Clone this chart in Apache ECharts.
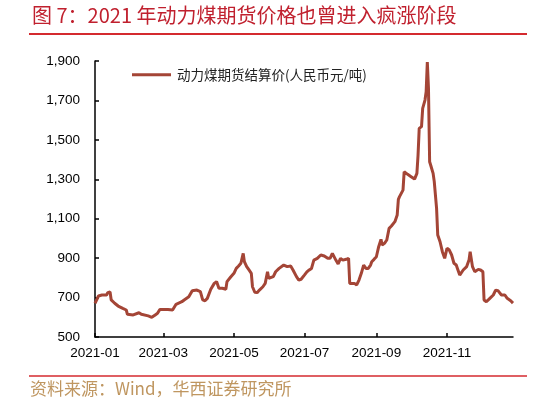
<!DOCTYPE html>
<html><head><meta charset="utf-8">
<script src="https://cdn.jsdelivr.net/npm/echarts@6/dist/echarts.min.js"></script>
<style>html,body{margin:0;padding:0;background:#fff}#c{width:533px;height:403px}</style>
</head><body><div id="c"></div>
<script>
const titleText = '图 7：2021 年动力煤期货价格也曾进入疯涨阶段';
const sourceText = '资料来源：Wind，华西证券研究所';
const seriesName = '动力煤期货结算价(人民币元/吨)';

const dates = [
'2021-01-01','2021-01-04','2021-01-07','2021-01-11','2021-01-12','2021-01-14','2021-01-15','2021-01-18','2021-01-21','2021-01-22',
'2021-01-25','2021-01-28','2021-01-29','2021-02-03','2021-02-08','2021-02-10','2021-02-16','2021-02-19','2021-02-22','2021-02-24',
'2021-02-26','2021-03-02','2021-03-05','2021-03-09','2021-03-10','2021-03-12','2021-03-17','2021-03-19','2021-03-23','2021-03-26',
'2021-03-30','2021-04-02','2021-04-04','2021-04-06','2021-04-08','2021-04-11','2021-04-14','2021-04-16','2021-04-18','2021-04-21',
'2021-04-24','2021-04-25','2021-04-28','2021-05-01','2021-05-03','2021-05-05','2021-05-07','2021-05-09','2021-05-10','2021-05-12',
'2021-05-14','2021-05-16','2021-05-17','2021-05-19','2021-05-21','2021-05-23','2021-05-26','2021-05-28','2021-05-30','2021-05-31',
'2021-06-04','2021-06-06','2021-06-09','2021-06-13','2021-06-16','2021-06-19','2021-06-21','2021-06-24','2021-06-26','2021-06-28',
'2021-07-01','2021-07-03','2021-07-05','2021-07-07','2021-07-09','2021-07-12','2021-07-15','2021-07-18','2021-07-21','2021-07-23',
'2021-07-25','2021-07-28','2021-07-30','2021-08-01','2021-08-03','2021-08-06','2021-08-08','2021-08-09','2021-08-10','2021-08-13',
'2021-08-15','2021-08-17','2021-08-19','2021-08-21','2021-08-23','2021-08-25','2021-08-27','2021-08-28','2021-08-30','2021-09-01',
'2021-09-03','2021-09-05','2021-09-06','2021-09-08','2021-09-10','2021-09-12','2021-09-14','2021-09-17','2021-09-19','2021-09-20',
'2021-09-21','2021-09-22','2021-09-24','2021-09-25','2021-09-28','2021-10-01','2021-10-04','2021-10-06','2021-10-07','2021-10-08',
'2021-10-10','2021-10-11','2021-10-13','2021-10-14','2021-10-15','2021-10-16','2021-10-17','2021-10-18','2021-10-20','2021-10-21',
'2021-10-23','2021-10-24','2021-10-26','2021-10-28','2021-10-30','2021-11-01','2021-11-03','2021-11-05','2021-11-07','2021-11-09',
'2021-11-10','2021-11-12','2021-11-15','2021-11-18','2021-11-20','2021-11-21','2021-11-23','2021-11-25','2021-11-28','2021-11-30',
'2021-12-02','2021-12-03','2021-12-05','2021-12-08','2021-12-11','2021-12-13','2021-12-15','2021-12-18','2021-12-21','2021-12-23',
'2021-12-26','2021-12-28'
];
const prices = [
671,708,713,713,725,728,688,671,657,654,
645,637,615,612,623,615,607,600,612,620,
640,640,640,637,632,666,679,688,704,735,
738,730,688,684,696,742,772,781,747,747,
742,781,803,823,848,860,874,924,882,857,
840,823,755,727,725,738,755,772,831,798,
806,831,848,865,857,860,840,806,789,793,
815,830,840,848,890,899,916,911,899,899,
924,890,870,899,890,894,899,772,767,772,
764,789,823,865,848,848,865,882,894,907,
958,995,967,975,992,1051,1063,1085,1119,1198,
1212,1203,1245,1338,1325,1313,1301,1330,1423,1558,
1567,1660,1702,1744,1895,1761,1389,1370,1330,1288,
1153,1017,983,933,899,950,941,916,874,865,
848,814,840,857,890,933,857,831,843,840,
831,688,679,696,713,738,735,713,713,696,
684,672
];
const xTickDates = ['2021-01-01','2021-03-01','2021-05-01','2021-07-01','2021-09-01','2021-11-01'];
const xMin = '2021-01-01';
const xMax = '2021-12-28';
const yMin = 500, yMax = 1900, yStep = 200;

function ts(s){ const p = s.split('-').map(Number); return new Date(p[0], p[1]-1, p[2]).getTime(); }
const tickVals = xTickDates.map(ts);
const seriesData = dates.map((d,i)=>[ts(d), prices[i]]);

const chart = echarts.init(document.getElementById('c'), null, {renderer:'canvas'});
chart.setOption({
  animation:false,
  backgroundColor:'#fff',
  textStyle:{fontFamily:'"Liberation Sans", Arial, "Noto Sans CJK SC", sans-serif'},
  grid:{left:95, right:20, top:61, bottom:66, containLabel:false},
  legend:{
    left:127, top:63, icon:'rect', itemWidth:39, itemHeight:3, itemGap:10,
    textStyle:{fontSize:13.5, color:'#222', fontFamily:'"Noto Sans CJK SC", sans-serif', padding:[0,0,0,1]},
    data:[seriesName]
  },
  xAxis:{
    type:'value', min:ts(xMin), max:ts(xMax), scale:true,
    axisLine:{show:true, lineStyle:{color:'#000', width:1.5}},
    axisTick:{show:true, inside:true, length:4, customValues:tickVals, lineStyle:{color:'#000', width:1.5}},
    axisLabel:{customValues:tickVals, fontSize:13.5, color:'#000', margin:10, hideOverlap:false,
      formatter:function(v){ const d=new Date(v); const m=d.getMonth()+1; return d.getFullYear()+'-'+(m<10?'0'+m:m); }},
    splitLine:{show:false}
  },
  yAxis:{
    type:'value', min:yMin, max:yMax, interval:yStep,
    axisLine:{show:true, lineStyle:{color:'#000', width:1.5}},
    axisTick:{show:true, inside:true, length:4, lineStyle:{color:'#000', width:1.5}},
    axisLabel:{fontSize:13.5, color:'#000', margin:15,
      formatter:function(v){ return v.toLocaleString('en-US'); }},
    splitLine:{show:false}
  },
  series:[{
    name:seriesName, type:'line', data:seriesData, showSymbol:false, symbol:'none',
    lineStyle:{color:'#A44536', width:3}, itemStyle:{color:'#A44536'}, clip:true
  }],
  graphic:[
    {type:'text', left:32, top:5, style:{
      text:titleText, fontSize:20, fill:'#C0202E',
      fontFamily:'"Noto Sans CJK SC", sans-serif', fontWeight:'normal'}},
    {type:'line', shape:{x1:29, y1:34, x2:527, y2:34}, style:{stroke:'#D42A2F', lineWidth:2}},
    {type:'line', shape:{x1:29, y1:376, x2:527, y2:376}, style:{stroke:'#D42A2F', lineWidth:1.5}},
    {type:'text', left:30, top:380, style:{
      text:sourceText, fontSize:17, fill:'#BF9660',
      fontFamily:'"Noto Sans CJK SC", sans-serif'}}
  ]
});
</script></body></html>
